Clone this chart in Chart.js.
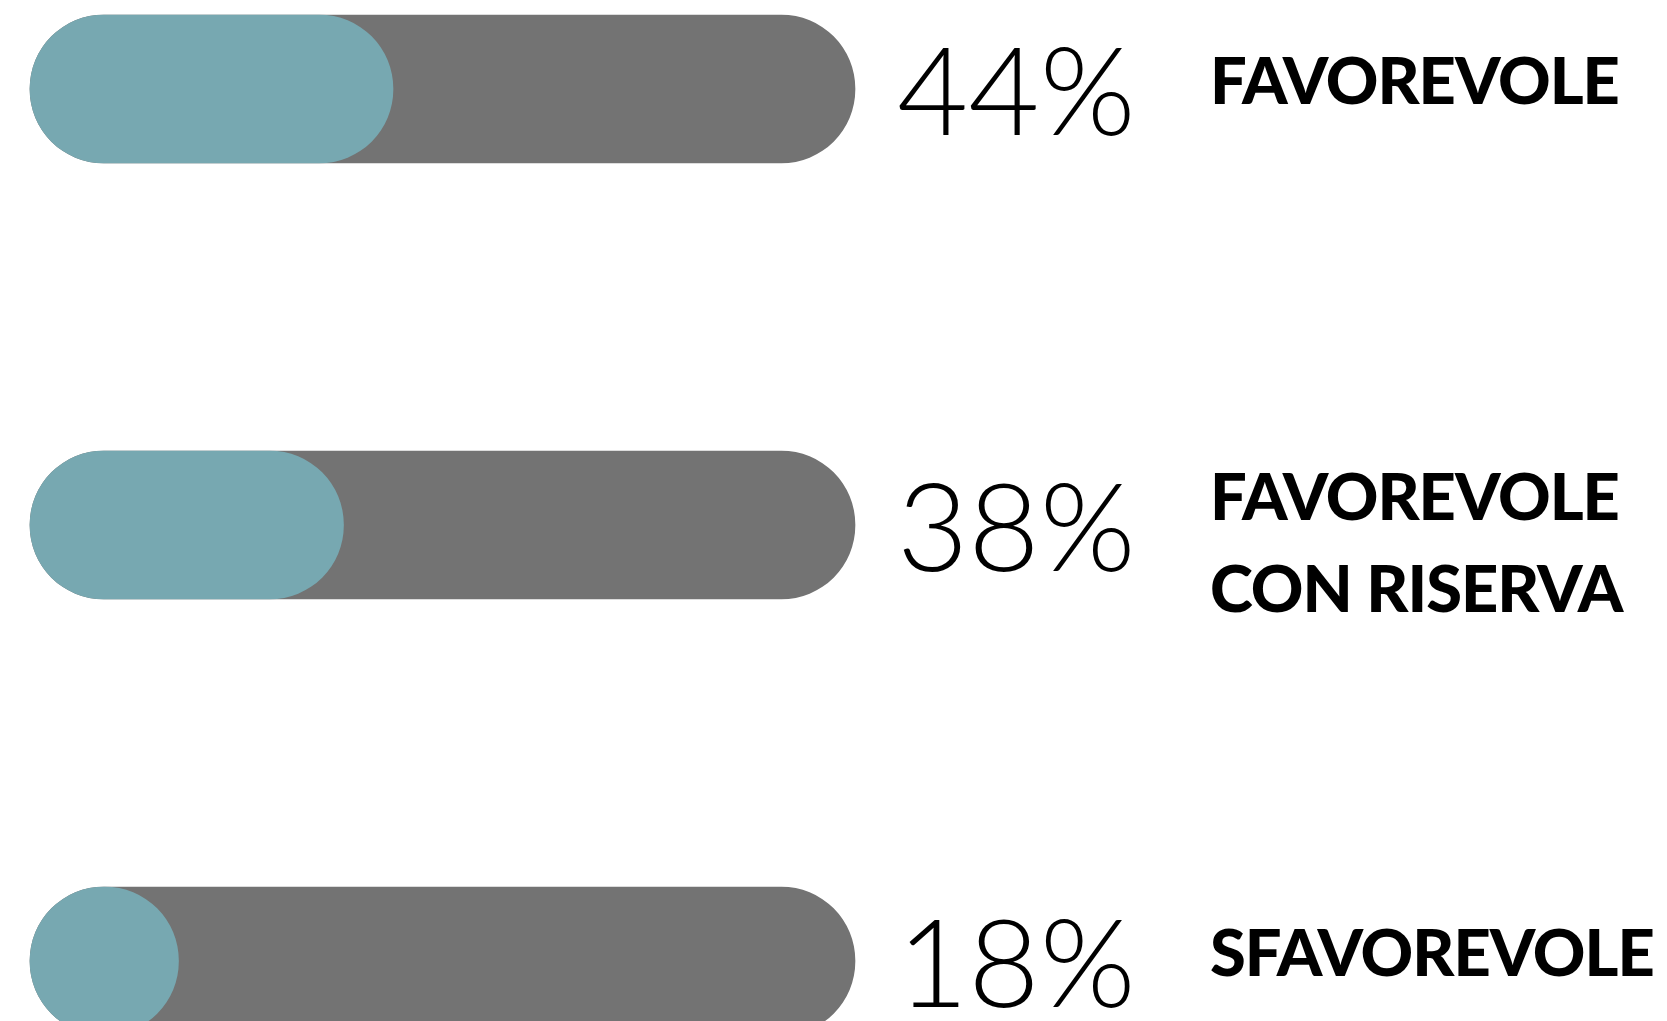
<!DOCTYPE html>
<html>
<head>
<meta charset="utf-8">
<script src="https://cdn.jsdelivr.net/npm/chart.js@4/dist/chart.umd.min.js"></script>
<style>
  html, body { margin: 0; padding: 0; background: #ffffff; overflow: hidden; }
  #wrap { position: relative; width: 1667px; height: 1021px; }
</style>
</head>
<body>
<div id="wrap"><canvas id="c"></canvas></div>
<script>
// ---- data ----
const categories = [['FAVOREVOLE'], ['FAVOREVOLE', 'CON RISERVA'], ['SFAVOREVOLE']];
const shareValues = [44, 38, 18];
const trackValues = [100, 100, 100];
const valueSuffix = '%';

// ---- styles ----
const TEAL = '#77a8b1';
const GREY = '#737373';
const PCT_FONT = '300 123px Lato';
const LABEL_FONT = '900 65px Lato';

const textPlugin = {
  id: 'rowText',
  afterDatasetsDraw(chart) {
    const { ctx, chartArea, scales } = chart;
    const y = scales.y;
    ctx.save();
    ctx.fillStyle = '#000000';
    ctx.textAlign = 'left';
    ctx.textBaseline = 'alphabetic';
    categories.forEach((lines, i) => {
      const yc = y.getPixelForValue(i);
      ctx.font = PCT_FONT;
      ctx.letterSpacing = '0px';
      ctx.fillText(shareValues[i] + valueSuffix, chartArea.right + 42, yc + 46);
      ctx.font = LABEL_FONT;
      ctx.letterSpacing = '-1px';
      const first = lines.length > 1 ? -5 : 15;
      lines.forEach((ln, k) => {
        ctx.fillText(ln, chartArea.right + 355, yc + first + k * 92);
      });
    });
    ctx.restore();
  }
};

new Chart(document.getElementById('c'), {
  type: 'bar',
  data: {
    labels: categories,
    datasets: [
      { data: shareValues, backgroundColor: TEAL, borderRadius: 74, borderSkipped: false, barThickness: 148, clip: false },
      { data: trackValues, backgroundColor: GREY, borderRadius: 74, borderSkipped: false, barThickness: 148, clip: false }
    ]
  },
  options: {
    indexAxis: 'y',
    responsive: true,
    maintainAspectRatio: false,
    animation: false,
    layout: { padding: { left: 30, right: 812, top: 89, bottom: 60 } },
    scales: {
      x: { display: false, min: 0, max: 100, stacked: false },
      y: { display: false, stacked: true, offset: false }
    },
    plugins: { legend: { display: false }, tooltip: { enabled: false } }
  },
  plugins: [textPlugin]
});
</script>
</body>
</html>
